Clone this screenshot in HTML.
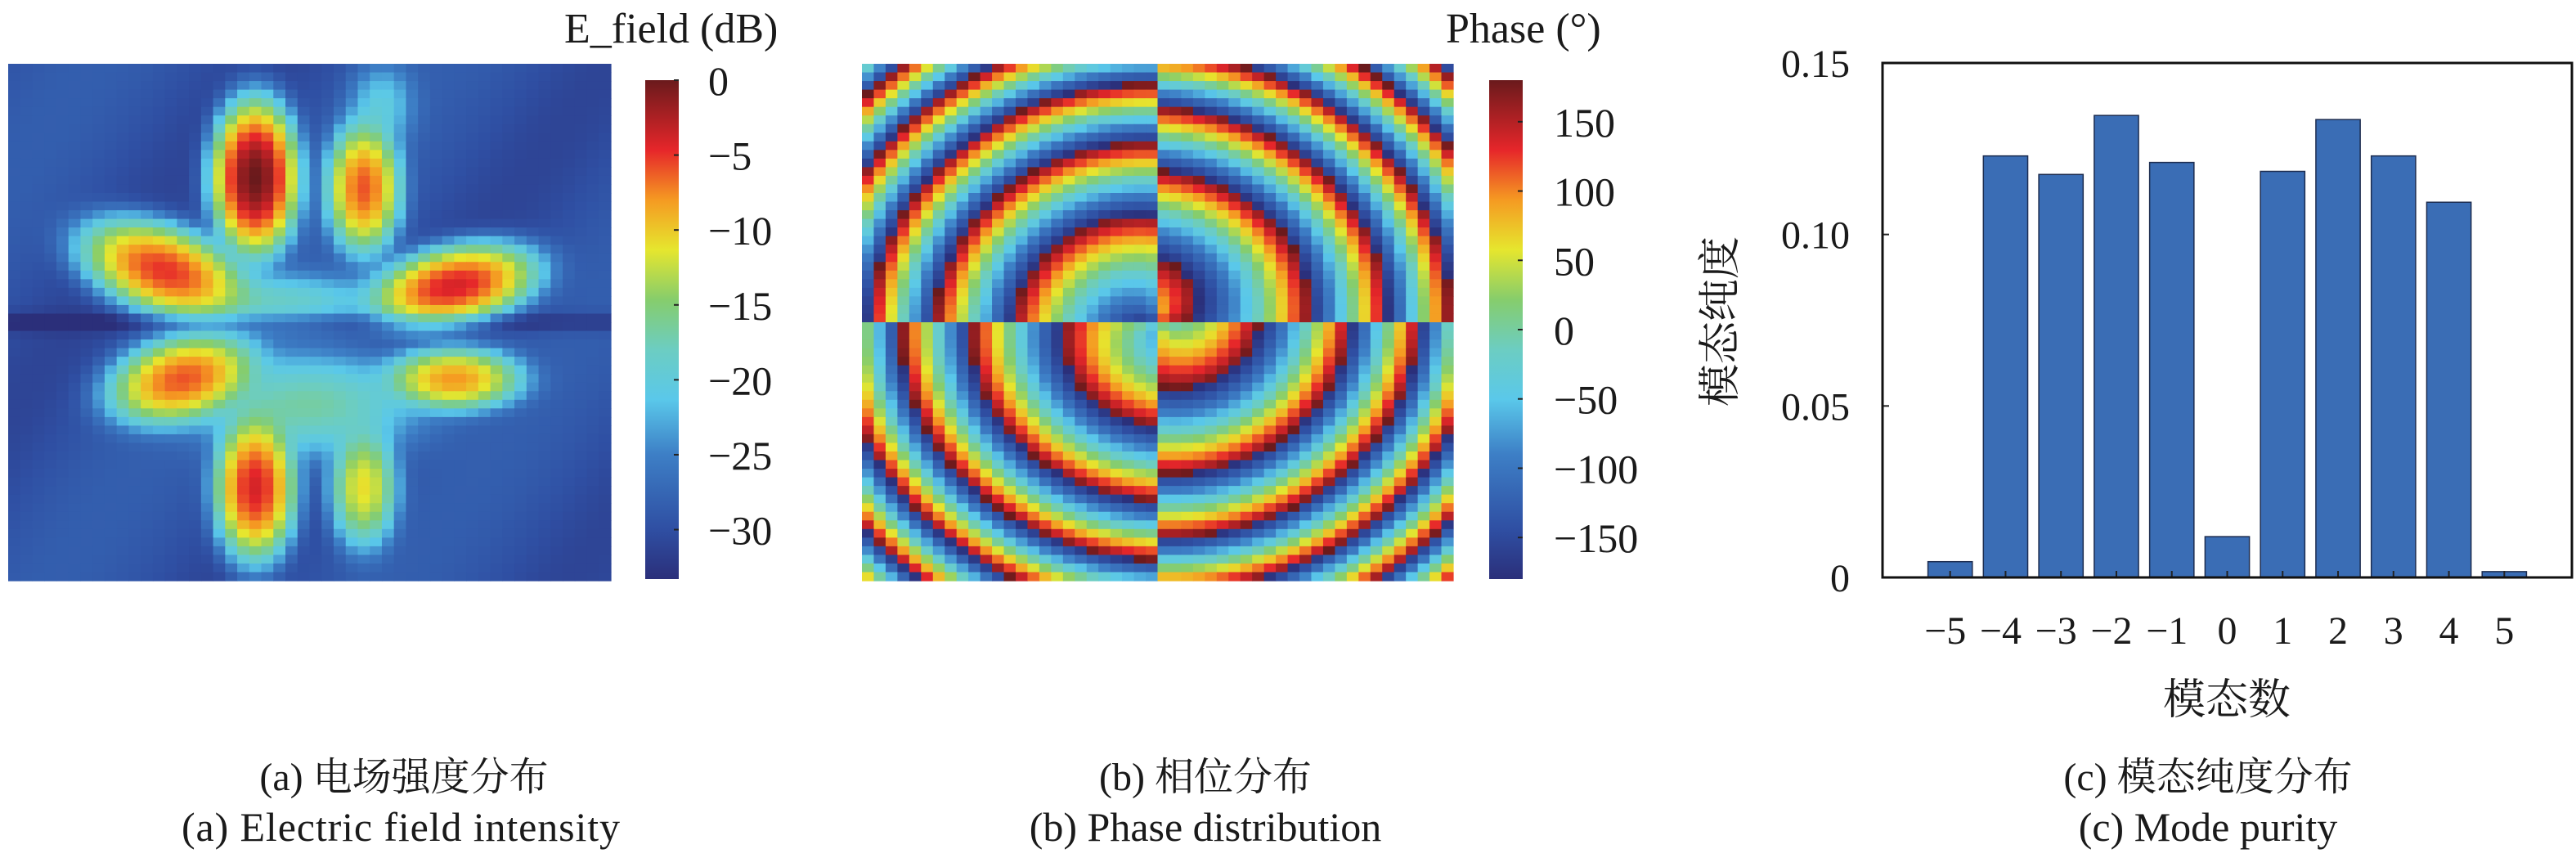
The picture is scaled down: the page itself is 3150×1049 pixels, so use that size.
<!DOCTYPE html>
<html><head><meta charset="utf-8"><style>
html,body{margin:0;padding:0;background:#fff;}
svg{display:block;}
text{font-family:"Liberation Serif","Noto Serif CJK SC",serif;fill:#1a1a1a;}
</style></head><body>
<svg id="fig" width="3150" height="1049" viewBox="0 0 3150 1049" xmlns="http://www.w3.org/2000/svg">
<defs>
<linearGradient id="jet" x1="0" y1="1" x2="0" y2="0">
<stop offset="0" stop-color="#2b2f7a"/><stop offset="0.1" stop-color="#2f4fa3"/><stop offset="0.25" stop-color="#3d7fc6"/>
<stop offset="0.36" stop-color="#5ac8ea"/><stop offset="0.46" stop-color="#6ccdc2"/><stop offset="0.56" stop-color="#86cd6c"/>
<stop offset="0.66" stop-color="#e6e62e"/><stop offset="0.76" stop-color="#f59a22"/><stop offset="0.86" stop-color="#e6262a"/>
<stop offset="1" stop-color="#6a1a1c"/>
</linearGradient>
</defs>
<g id="panelA"></g>
<g id="panelB"></g>
<rect x="789" y="98" width="41" height="610" fill="url(#jet)"/>
<rect x="1821" y="98" width="41" height="610" fill="url(#jet)"/>
<text x="690" y="52" font-size="52">E_field (dB)</text>
<text x="1768" y="52" font-size="52">Phase (°)</text>
<g id="cbA"></g>
<g id="cbB"></g>
<g id="bars"></g>
<text x="2723" y="873" font-size="52" text-anchor="middle">模态数</text>
<text x="0" y="0" font-size="52" text-anchor="middle" transform="translate(2121,393) rotate(-90)">模态纯度</text>
<text x="494" y="966" font-size="48" text-anchor="middle">(a) 电场强度分布</text>
<text x="490" y="1028" font-size="50" text-anchor="middle" textLength="536">(a) Electric field intensity</text>
<text x="1474" y="966" font-size="48" text-anchor="middle">(b) 相位分布</text>
<text x="1474" y="1028" font-size="50" text-anchor="middle">(b) Phase distribution</text>
<text x="2700" y="966" font-size="48" text-anchor="middle">(c) 模态纯度分布</text>
<text x="2700" y="1028" font-size="50" text-anchor="middle">(c) Mode purity</text>
</svg>
<script>
// ---- bar chart data ----
const modes = [-5,-4,-3,-2,-1,0,1,2,3,4,5];
const purity = [0.0046,0.1229,0.1175,0.1347,0.1210,0.0119,0.1184,0.1335,0.1229,0.1094,0.0017];
const yTicks = [0,0.05,0.10,0.15];
const yTickLabels = ["0","0.05","0.10","0.15"];
const xTickLabels = ["−5","−4","−3","−2","−1","0","1","2","3","4","5"];
// ---- colorbar ticks ----
const efieldTicks = [0,-5,-10,-15,-20,-25,-30];
const efieldTickLabels = ["0","−5","−10","−15","−20","−25","−30"];
const phaseTicks = [150,100,50,0,-50,-100,-150];
const phaseTickLabels = ["150","100","50","0","−50","−100","−150"];
// ---- field lobes (normalized centre, widths, tilt deg, peak dB) ----
const lobeCx = [0.41,0.59,0.26,0.74,0.29,0.74,0.41,0.59,0.45,0.50,0.62];
const lobeCy = [0.22,0.24,0.40,0.43,0.61,0.61,0.82,0.82,0.46,0.66,0.08];
const lobeSx = [0.036,0.034,0.08,0.075,0.07,0.065,0.036,0.034,0.13,0.13,0.04];
const lobeSy = [0.075,0.07,0.045,0.04,0.045,0.035,0.075,0.07,0.04,0.07,0.06];
const lobeTilt = [0,0,25,-15,-20,0,0,0,0,0,0];
const lobePeak = [0,-6,-5,-4,-6,-8,-4,-11,-19,-17,-21];

const NS="http://www.w3.org/2000/svg";
function mk(tag,attrs,parent){const e=document.createElementNS(NS,tag);for(const k in attrs)e.setAttribute(k,attrs[k]);parent.appendChild(e);return e;}

const stops=[[0,[43,47,122]],[0.1,[47,79,163]],[0.25,[61,127,198]],[0.36,[90,200,234]],[0.46,[108,205,194]],[0.56,[134,205,108]],[0.66,[230,230,46]],[0.76,[245,154,34]],[0.86,[230,38,42]],[1,[106,26,28]]];
function cmap(t){t=Math.max(0,Math.min(1,t));for(let i=1;i<stops.length;i++){if(t<=stops[i][0]){const a=stops[i-1],b=stops[i];const f=(t-a[0])/(b[0]-a[0]);const c=a[1].map((v,j)=>Math.round(v+(b[1][j]-v)*f));return `rgb(${c[0]},${c[1]},${c[2]})`;}}return "rgb(106,26,28)";}

const COLS=50, ROWS=60;
function efield(u,v){
  let p=Math.pow(10,-2.95)*(1+0.3*Math.sin(u*11+v*7));
  for(let i=0;i<lobeCx.length;i++){
    const a=lobeTilt[i]*Math.PI/180;const dx=u-lobeCx[i],dy=v-lobeCy[i];
    const rx=(dx*Math.cos(a)+dy*Math.sin(a))/lobeSx[i], ry=(-dx*Math.sin(a)+dy*Math.cos(a))/lobeSy[i];
    p+=Math.pow(10,lobePeak[i]/10)*Math.exp(-(rx*rx+ry*ry));
  }
  p*=1-0.6*Math.exp(-Math.pow((v-0.5)/0.02,2));
  return 10*Math.log10(p);
}
function phase(u,v){
  const dx=u-0.5,dy=v-0.5,r=Math.sqrt(dx*dx+dy*dy),th=Math.atan2(dy,dx);
  let ph=th*180/Math.PI+360*9.5*Math.pow(r,1.6)+(v>0.5?180:0)+(u>0.5?150:0);
  ph=((ph+180)%360+360)%360-180;return ph;
}
function drawMap(g,x0,y0,w,h,fn,lo,hi){
  const cw=w/COLS,ch=h/ROWS;
  for(let r=0;r<ROWS;r++)for(let c=0;c<COLS;c++){
    const val=fn((c+0.5)/COLS,(r+0.5)/ROWS);
    const e=mk('rect',{x:(x0+c*cw).toFixed(2),y:(y0+r*ch).toFixed(2),width:(cw+0.6).toFixed(2),height:(ch+0.6).toFixed(2),fill:cmap((val-lo)/(hi-lo))},g);
    
    
  }
}
drawMap(document.getElementById('panelA'),10,78,737,632,efield,-33.3,0);
drawMap(document.getElementById('panelB'),1054,78,723,632,phase,-180,180);

function cbar(g,x0,x1,y0,y1,lo,hi,ticks,labels,lx){
  ticks.forEach((t,i)=>{
    const y=y1-(t-lo)/(hi-lo)*(y1-y0);
    const l=mk('line',{x1:x1-6,x2:x1,y1:y,y2:y,stroke:'#222','stroke-width':2},g);
    
    
    const tx=mk('text',{x:lx,y:y+18,'font-size':50},g);tx.textContent=labels[i];
    
    
  });
}
cbar(document.getElementById('cbA'),789,830,98,708,-33.3,0,efieldTicks,efieldTickLabels,866);
cbar(document.getElementById('cbB'),1821,1862,98,708,-180,180,phaseTicks,phaseTickLabels,1900);

// bar chart
const g=document.getElementById('bars');
const X0=2302,X1=3145,Y0=706,Y1=77,XMIN=-6.22,XMAX=6.22,YMAX=0.15;
const xs=v=>X0+(v-XMIN)/(XMAX-XMIN)*(X1-X0);
const ys=v=>Y0-v/YMAX*(Y0-Y1);
const bw=(xs(0.8)-xs(0));
modes.forEach((m,i)=>{
  const b=mk('rect',{x:xs(m)-bw/2,y:ys(purity[i]),width:bw,height:Y0-ys(purity[i]),fill:'#3a6db5',stroke:'#1d2d50','stroke-width':1.5},g);
  
  
  const t=mk('line',{x1:xs(m),x2:xs(m),y1:Y0,y2:Y0-8,stroke:'#222','stroke-width':2},g);
  
  
  const lb=mk('text',{x:xs(m)-(m<0?6:0),y:787,'font-size':48,'text-anchor':'middle'},g);lb.textContent=xTickLabels[i];
  
  
});
yTicks.forEach((v,i)=>{
  const t=mk('line',{x1:X0,x2:X0+8,y1:ys(v),y2:ys(v),stroke:'#222','stroke-width':2},g);
  
  
  const lb=mk('text',{x:2262,y:ys(v)+17,'font-size':48,'text-anchor':'end'},g);lb.textContent=yTickLabels[i];
  
  
});
const fr=mk('rect',{x:X0,y:Y1,width:X1-X0,height:Y0-Y1,fill:'none',stroke:'#111','stroke-width':3},g);


</script>
</body></html>
